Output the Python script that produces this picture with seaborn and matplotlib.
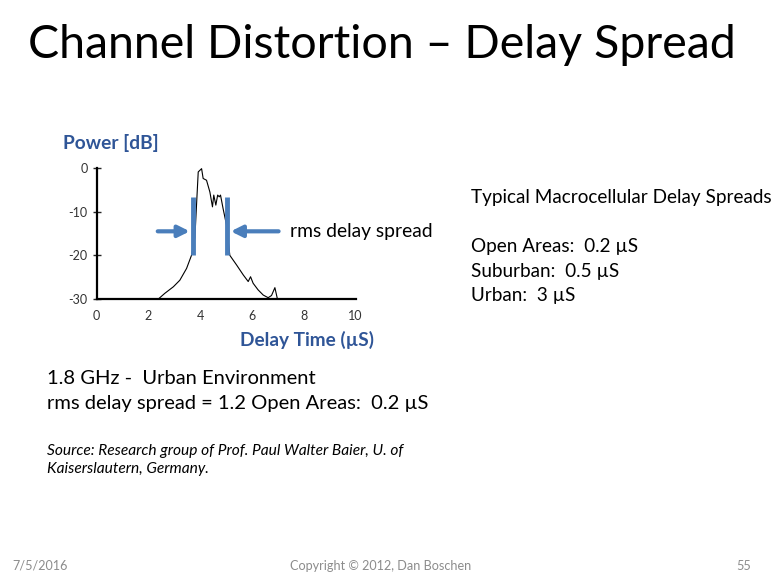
import numpy as np
import pandas as pd
import seaborn as sns
import matplotlib.pyplot as plt

sns.set_style("ticks")
plt.rcParams['font.family'] = ['Lato', 'DejaVu Sans']
plt.rcParams['text.color'] = 'black'

# power delay profile
delay_us = [0.9, 1.5, 2.0, 2.38, 2.63, 2.96, 3.21, 3.47, 3.66, 3.79, 3.86, 3.92, 4.05,
            4.11, 4.24, 4.37, 4.47, 4.52, 4.6, 4.67, 4.73, 4.78, 4.88, 5.01, 5.14,
            5.4, 5.66, 5.85, 5.94, 6.04, 6.23, 6.43, 6.62, 6.75, 6.88, 6.97]
power_db = [-30, -30, -30, -30, -28.7, -27.2, -25.7, -23, -20, -16, -7.8, -0.9, -0.15,
            -2.4, -2.8, -5.5, -8.9, -6.2, -8.5, -6.2, -6.6, -6.2, -9.3, -13, -20,
            -22.2, -24.5, -26, -24.9, -26.4, -27.9, -29.1, -29.7, -29.2, -27.4, -29.8]
spread_edges = [3.73, 5.04]
x_ticks = [0, 2, 4, 6, 8, 10]
y_ticks = [0, -10, -20, -30]

macro_lines = ["Typical Macrocellular Delay Spreads", "",
               "Open Areas:  0.2 \u00b5S", "Suburban:  0.5 \u00b5S", "Urban:  3 \u00b5S"]

df = pd.DataFrame({"delay": delay_us, "power": power_db})

W, H = 783, 581
fig = plt.figure(figsize=(W / 100, H / 100), dpi=100)
ax = fig.add_axes([96.7 / W, 1 - 299 / H, 259 / W, 131 / H])

sns.lineplot(data=df, x="delay", y="power", ax=ax, color="black", lw=0.8, clip_on=False)

blue = "#4A7EBB"
ax.vlines(spread_edges, -20, -6.6, color=blue, lw=3.5)
ax.annotate("", xy=(spread_edges[0] - 0.03, -14.5), xytext=(2.25, -14.5),
            arrowprops=dict(arrowstyle="-|>", color=blue, lw=3, mutation_scale=17))
ax.annotate("", xy=(spread_edges[1] + 0.03, -14.5), xytext=(7.13, -14.5),
            arrowprops=dict(arrowstyle="-|>", color=blue, lw=3, mutation_scale=17))

ax.set_xlim(0, 10)
ax.set_ylim(-30, 0)
ax.set_xticks(x_ticks)
ax.set_yticks(y_ticks)
ax.set_yticklabels([str(v) for v in y_ticks])
ax.tick_params(axis="y", direction="inout", length=6, width=1, labelsize=9, labelcolor="#333333")
ax.tick_params(axis="x", length=0, labelsize=9, pad=8, labelcolor="#333333")
ax.set_xlabel("")
ax.set_ylabel("")
for s in ["left", "bottom"]:
    ax.spines[s].set_linewidth(1.6)
    ax.spines[s].set_color("black")
sns.despine(ax=ax)

fig.text(290 / W, 1 - 231 / H, "rms delay spread", fontsize=13.9, va="center")
fig.text(63 / W, 1 - 143 / H, "Power [dB]", fontsize=13.8, fontweight="bold",
         color="#2F5597", va="center")
fig.text(307 / W, 1 - 340 / H, "Delay Time (\u00b5S)", fontsize=13.7, fontweight="bold",
         color="#2F5597", va="center", ha="center")

fig.text(28 / W, 1 - 45 / H, "Channel Distortion \u2013 Delay Spread", fontsize=33.5, va="center")

for i, line in enumerate(macro_lines):
    fig.text(471 / W, 1 - (197 + i * 24.7) / H, line, fontsize=13.6, va="center")

fig.text(47 / W, 1 - 378 / H, "1.8 GHz -  Urban Environment", fontsize=14.5, va="center")
fig.text(47 / W, 1 - 403 / H, "rms delay spread = 1.2 Open Areas:  0.2 \u00b5S",
         fontsize=14.5, va="center")
fig.text(47 / W, 1 - 451 / H, "Source: Research group of Prof. Paul Walter Baier, U. of",
         fontsize=11.2, style="italic", va="center")
fig.text(47 / W, 1 - 469 / H, "Kaiserslautern, Germany.", fontsize=11.2, style="italic", va="center")

grey = "#8C8C8C"
fig.text(12 / W, 1 - 566 / H, "7/5/2016", fontsize=9.1, color=grey, va="center")
fig.text(381 / W, 1 - 566 / H, "Copyright \u00a9 2012, Dan Boschen", fontsize=9.1, color=grey,
         va="center", ha="center")
fig.text(751 / W, 1 - 566 / H, "55", fontsize=9.1, color=grey, va="center", ha="right")

fig.savefig("out.png", dpi=100)
